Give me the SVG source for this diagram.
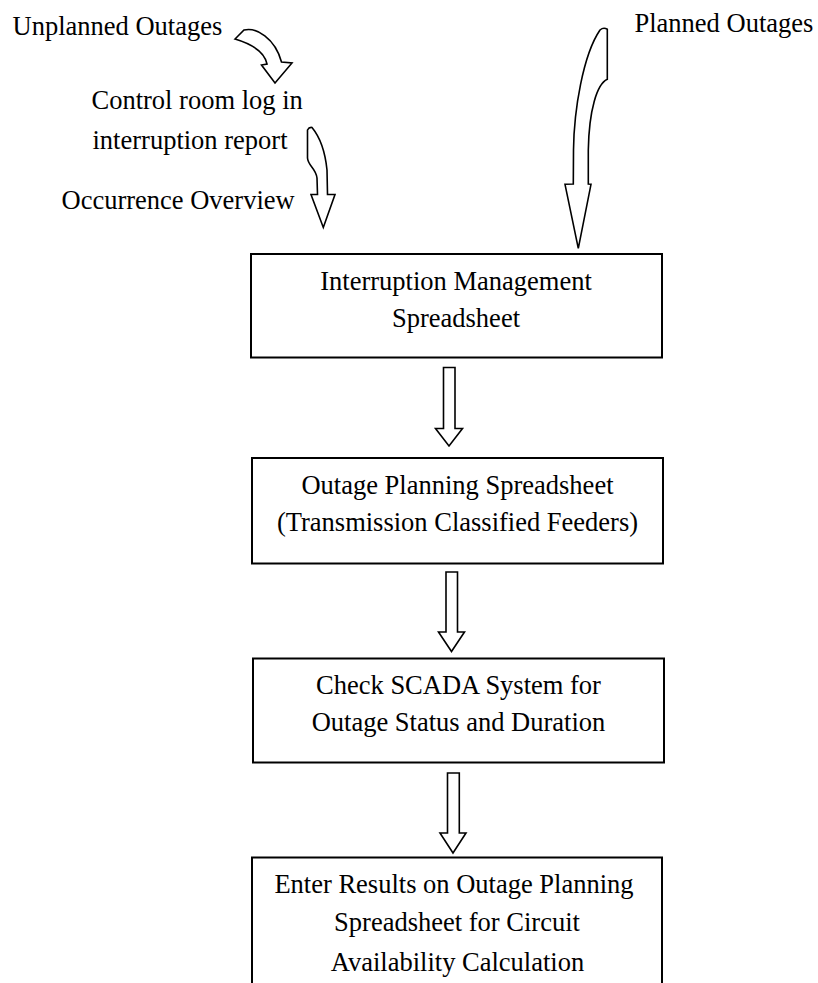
<svg xmlns="http://www.w3.org/2000/svg" width="818" height="983" viewBox="0 0 818 983">
<style>
  .t { font-family: "Liberation Serif", "Times New Roman", serif; font-size: 26.5px; fill: #000; }
  .c { text-anchor: middle; }
  .box { fill: #fff; stroke: #000; stroke-width: 2; }
  .arr { fill: #fff; stroke: #000; stroke-width: 1.6; stroke-linejoin: miter; }
</style>
<rect x="0" y="0" width="818" height="983" fill="#fff"/>

<g id="labels">
  <text class="t" x="12.5" y="35">Unplanned Outages</text>
  <text class="t" x="634.5" y="32">Planned Outages</text>
  <text class="t" x="91.5" y="109">Control room log in</text>
  <text class="t" x="92.5" y="149">interruption report</text>
  <text class="t" x="61.5" y="208.5">Occurrence Overview</text>
</g>

<g id="connectors">
  <path class="arr" d="M244,30 C256,27 275,38 281.5,62 L292,63 L275,83 L261.5,65 L267,64 C265,54 255,45 235,39 Z"/>
  <path class="arr" d="M307.5,130 Q309,127 312,127.5 C319,136 325,150 327,170 L327.5,194.5 L335,194.5 L323.3,227.5 L311,194.5 L317.5,194.5 L317,178 C316,168 308,166 307.5,158 Z"/>
  <path class="arr" d="M607.3,29.3 L607.3,79.3 C597,84 589,110 588.3,150 L588.3,184 L591,184.3 L578.3,248.3 L565,184.3 L573.3,184 L573.5,150 C574,110 583,55 600,30 Q603.5,27 607.3,29.3 Z"/>
  <path class="arr" d="M443.5,367.5 L455,367.5 L455,428.5 L462.5,428.5 L449,446 L435.5,428.5 L443.5,428.5 Z"/>
  <path class="arr" d="M446,572 L457.5,572 L457.5,632 L464.5,632 L451.5,651.5 L438.5,632 L446,632 Z"/>
  <path class="arr" d="M447.5,773 L459.3,773 L459.3,833 L466,833 L453,853 L440,833 L447.5,833 Z"/>
</g>

<g id="node1">
  <rect class="box" x="251" y="254" width="411" height="103.5"/>
  <text class="t c" x="456" y="290">Interruption Management</text>
  <text class="t c" x="456" y="327">Spreadsheet</text>
</g>

<g id="node2">
  <rect class="box" x="252" y="458" width="411" height="105.5"/>
  <text class="t c" x="457.5" y="494">Outage Planning Spreadsheet</text>
  <text class="t c" x="457.5" y="531">(Transmission Classified Feeders)</text>
</g>

<g id="node3">
  <rect class="box" x="253" y="658.5" width="411" height="104"/>
  <text class="t c" x="458.5" y="694">Check SCADA System for</text>
  <text class="t c" x="458.5" y="731">Outage Status and Duration</text>
</g>

<g id="node4">
  <rect class="box" x="252" y="857.5" width="410" height="140"/>
  <text class="t c" x="454" y="892.5">Enter Results on Outage Planning</text>
  <text class="t c" x="457" y="931">Spreadsheet for Circuit</text>
  <text class="t c" x="457.5" y="970.5">Availability Calculation</text>
</g>
</svg>
